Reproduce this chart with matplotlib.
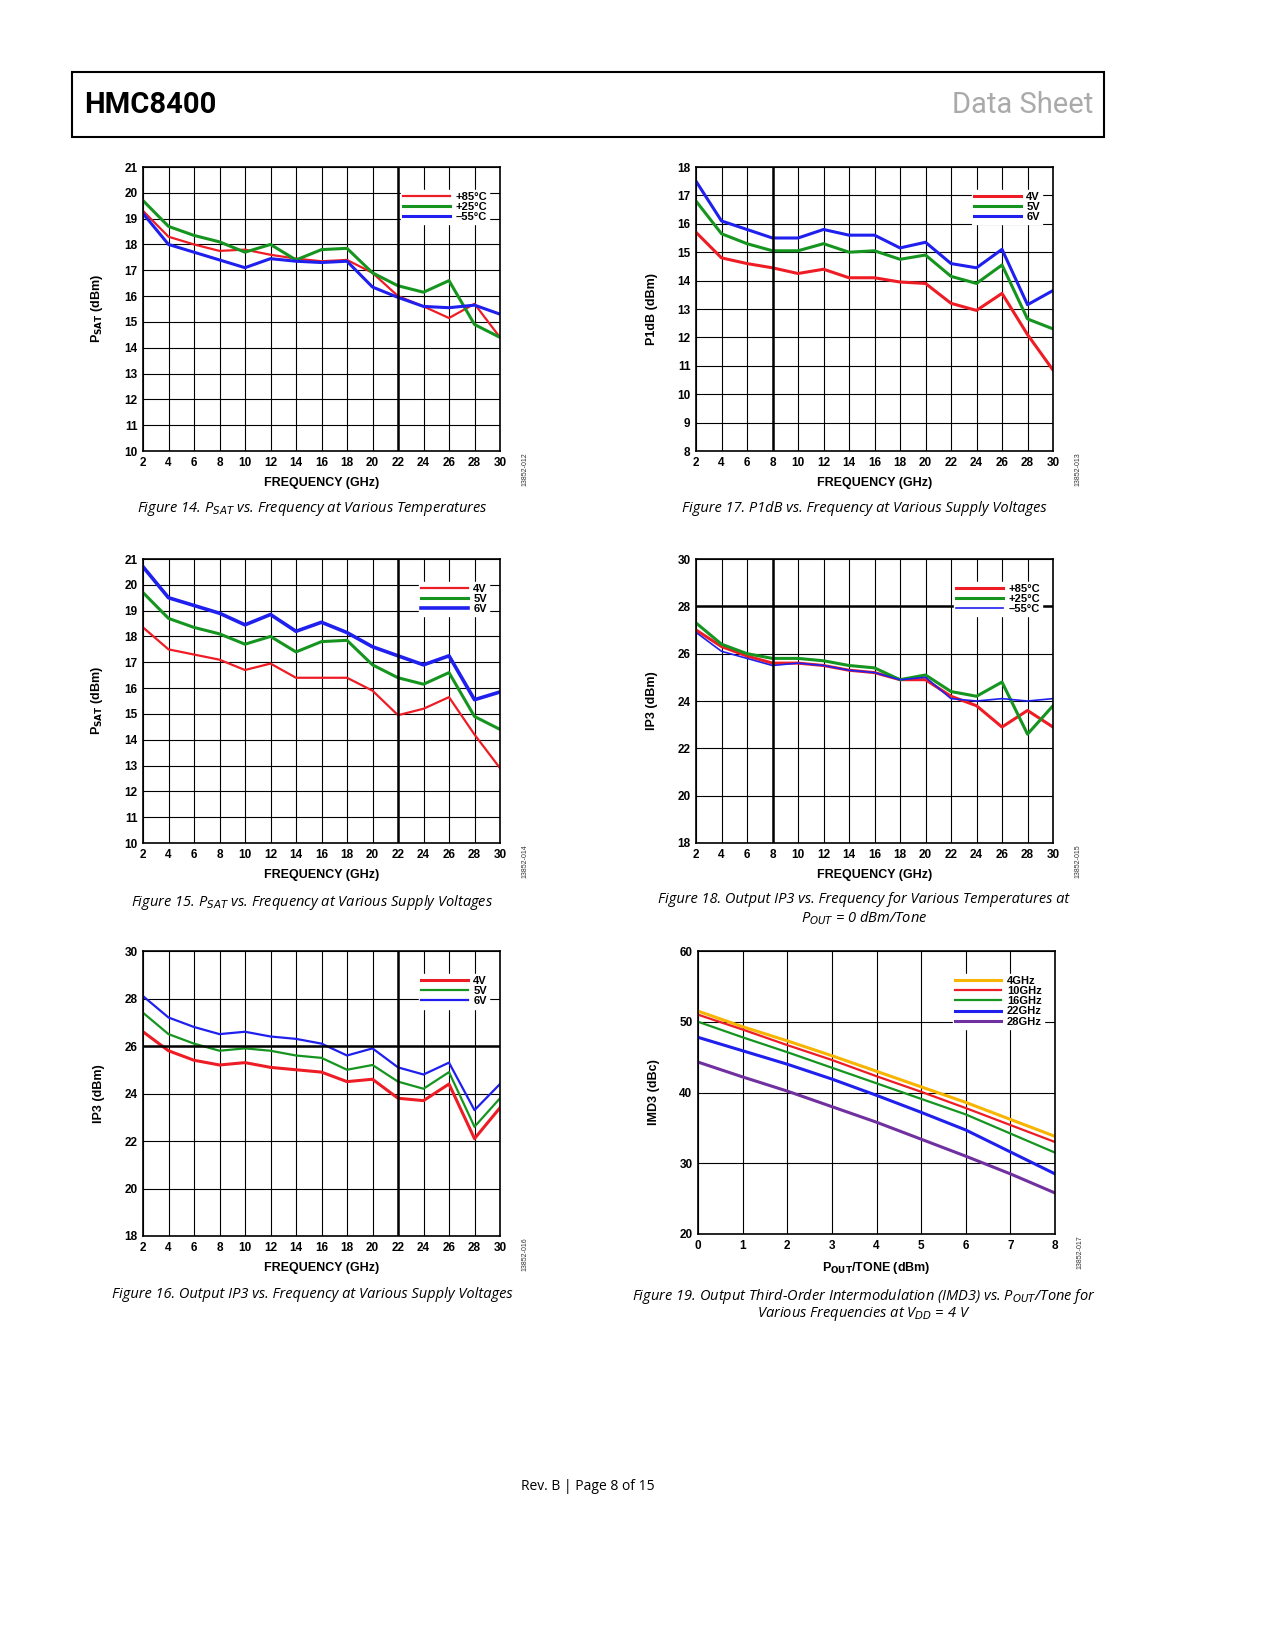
import matplotlib
matplotlib.use('Agg')
import matplotlib.pyplot as plt
from matplotlib.patches import Rectangle

plt.rcParams['font.family'] = ['Liberation Sans', 'DejaVu Sans']

W, H = 1275, 1650

freq = [2, 4, 6, 8, 10, 12, 14, 16, 18, 20, 22, 24, 26, 28, 30]

psat_85 = [19.3, 18.3, 18.0, 17.75, 17.8, 17.6, 17.45, 17.35, 17.4, 16.9, 16.0, 15.6, 15.15, 15.7, 14.4]
psat_25 = [19.7, 18.7, 18.35, 18.1, 17.7, 18.0, 17.4, 17.8, 17.85, 16.9, 16.4, 16.15, 16.6, 14.9, 14.4]
psat_m55 = [19.2, 18.0, 17.7, 17.4, 17.1, 17.45, 17.35, 17.3, 17.35, 16.35, 15.95, 15.6, 15.55, 15.65, 15.3]

psat_4v = [18.35, 17.5, 17.3, 17.1, 16.7, 16.95, 16.4, 16.4, 16.4, 15.9, 14.95, 15.2, 15.65, 14.2, 12.9]
psat_5v = psat_25
psat_6v = [20.7, 19.5, 19.2, 18.9, 18.45, 18.85, 18.2, 18.55, 18.15, 17.6, 17.25, 16.9, 17.25, 15.55, 15.85]

p1db_4v = [15.7, 14.8, 14.6, 14.45, 14.25, 14.4, 14.1, 14.1, 13.95, 13.9, 13.2, 12.95, 13.55, 12.1, 10.85]
p1db_5v = [16.8, 15.65, 15.3, 15.05, 15.05, 15.3, 15.0, 15.05, 14.75, 14.9, 14.15, 13.9, 14.55, 12.65, 12.3]
p1db_6v = [17.5, 16.1, 15.8, 15.5, 15.5, 15.8, 15.6, 15.6, 15.15, 15.35, 14.6, 14.45, 15.1, 13.15, 13.65]

ip3_85 = [27.0, 26.3, 25.9, 25.6, 25.6, 25.5, 25.3, 25.2, 24.9, 24.9, 24.2, 23.8, 22.9, 23.6, 22.9]
ip3_25 = [27.3, 26.4, 26.0, 25.8, 25.8, 25.7, 25.5, 25.4, 24.9, 25.1, 24.4, 24.2, 24.8, 22.6, 23.8]
ip3_m55 = [26.9, 26.1, 25.8, 25.5, 25.6, 25.5, 25.3, 25.2, 24.9, 25.0, 24.1, 24.0, 24.1, 24.0, 24.1]

ip3_4v = [26.6, 25.8, 25.4, 25.2, 25.3, 25.1, 25.0, 24.9, 24.5, 24.6, 23.8, 23.7, 24.4, 22.1, 23.4]
ip3_5v = [27.4, 26.5, 26.1, 25.8, 25.9, 25.8, 25.6, 25.5, 25.0, 25.2, 24.5, 24.2, 24.9, 22.6, 23.8]
ip3_6v = [28.1, 27.2, 26.8, 26.5, 26.6, 26.4, 26.3, 26.1, 25.6, 25.9, 25.1, 24.8, 25.3, 23.3, 24.4]

pout = [0, 1, 2, 3, 4, 5, 6, 7, 8]
imd_4g = [51.5, 49.3, 47.3, 45.2, 43.0, 40.8, 38.6, 36.2, 33.8]
imd_10g = [51.0, 48.9, 46.7, 44.6, 42.3, 40.1, 37.8, 35.4, 33.0]
imd_16g = [50.0, 47.8, 45.7, 43.5, 41.3, 39.1, 36.9, 34.2, 31.5]
imd_22g = [47.8, 45.9, 44.0, 41.9, 39.6, 37.2, 34.7, 31.6, 28.5]
imd_28g = [44.3, 42.2, 40.2, 38.0, 35.8, 33.4, 31.0, 28.5, 25.8]

RED, GREEN, BLUE = '#ee1c25', '#15951f', '#1f1fee'

fig = plt.figure(figsize=(W / 100, H / 100), dpi=100)


def px_axes(x0, y0, x1, y1):
    return fig.add_axes([x0 / W, 1 - y1 / H, (x1 - x0) / W, (y1 - y0) / H])


def chart(box, x, series, ylim, ystep, ylabel, xlabel, xticks, tag, thick_x=None, thick_y=None):
    ax = px_axes(*box)
    for y, c, lw, lab in series:
        ax.plot(x, y, color=c, lw=lw, label=lab)
    ax.set_xlim(xticks[0], xticks[-1])
    ax.set_ylim(*ylim)
    ax.set_xticks(xticks)
    ax.set_yticks(range(ylim[0], ylim[1] + 1, ystep))
    ax.grid(color='black', lw=0.8)
    if thick_x is not None:
        ax.axvline(thick_x, color='black', lw=1.8)
    if thick_y is not None:
        ax.axhline(thick_y, color='black', lw=1.8)
    for s in ax.spines.values():
        s.set_linewidth(1.2)
    ax.tick_params(length=0, labelsize=8.5, pad=4)
    for t in ax.get_xticklabels() + ax.get_yticklabels():
        t.set_fontweight('bold')
    ax.set_ylabel(ylabel, fontsize=9, fontweight='bold', labelpad=14)
    ax.set_xlabel(xlabel, fontsize=9, fontweight='bold', labelpad=6)
    ax.legend(loc='upper right', bbox_to_anchor=(0.985, 0.94),
              prop={'weight': 'bold', 'size': 8}, frameon=True, fancybox=False,
              edgecolor='white', framealpha=1, handlelength=4.2,
              labelspacing=0.02, borderpad=0.2, handletextpad=0.5)
    x1, y1 = box[2], box[3]
    fig.text((x1 + 25) / W, 1 - (y1 + 18) / H, tag, fontsize=5, rotation=90,
             ha='center', va='center', color='#333')
    return ax


fx = list(range(2, 31, 2))
chart((143, 167, 500, 451), freq,
      [(psat_85, RED, 1.6, '+85°C'), (psat_25, GREEN, 2.2, '+25°C'), (psat_m55, BLUE, 2.2, '–55°C')],
      (10, 21), 1, r'P$_{\mathbf{SAT}}$ (dBm)', 'FREQUENCY (GHz)', fx, '13852-012', thick_x=22)
chart((696, 167, 1053, 451), freq,
      [(p1db_4v, RED, 2.2, '4V'), (p1db_5v, GREEN, 2.2, '5V'), (p1db_6v, BLUE, 2.2, '6V')],
      (8, 18), 1, 'P1dB (dBm)', 'FREQUENCY (GHz)', fx, '13852-013', thick_x=8)
chart((143, 559, 500, 843), freq,
      [(psat_4v, RED, 1.6, '4V'), (psat_5v, GREEN, 2.2, '5V'), (psat_6v, BLUE, 2.6, '6V')],
      (10, 21), 1, r'P$_{\mathbf{SAT}}$ (dBm)', 'FREQUENCY (GHz)', fx, '13852-014', thick_x=22)
chart((696, 559, 1053, 843), freq,
      [(ip3_85, RED, 2.2, '+85°C'), (ip3_25, GREEN, 2.2, '+25°C'), (ip3_m55, BLUE, 1.2, '–55°C')],
      (18, 30), 2, 'IP3 (dBm)', 'FREQUENCY (GHz)', fx, '13852-015', thick_x=8, thick_y=28)
chart((143, 951, 500, 1236), freq,
      [(ip3_4v, RED, 2.2, '4V'), (ip3_5v, GREEN, 1.6, '5V'), (ip3_6v, BLUE, 1.6, '6V')],
      (18, 30), 2, 'IP3 (dBm)', 'FREQUENCY (GHz)', fx, '13852-016', thick_x=22, thick_y=26)
chart((698, 951, 1055, 1234), pout,
      [(imd_4g, '#f7b500', 2.2, '4GHz'), (imd_10g, RED, 1.6, '10GHz'), (imd_16g, GREEN, 1.6, '16GHz'),
       (imd_22g, BLUE, 2.2, '22GHz'), (imd_28g, '#7030a0', 2.2, '28GHz')],
      (20, 60), 10, 'IMD3 (dBc)', r'P$_{\mathbf{OUT}}$/TONE (dBm)', list(range(0, 9)), '13852-017')

# captions
cap = dict(fontsize=10.5, style='italic', ha='center', va='center', family=['Open Sans', 'DejaVu Sans'])
fig.text(312 / W, 1 - 509 / H, r'Figure 14. P$_{SAT}$ vs. Frequency at Various Temperatures', **cap)
fig.text(864 / W, 1 - 509 / H, 'Figure 17. P1dB vs. Frequency at Various Supply Voltages', **cap)
fig.text(312 / W, 1 - 902 / H, r'Figure 15. P$_{SAT}$ vs. Frequency at Various Supply Voltages', **cap)
fig.text(864 / W, 1 - 900 / H, 'Figure 18. Output IP3 vs. Frequency for Various Temperatures at', **cap)
fig.text(864 / W, 1 - 918 / H, r'P$_{OUT}$ = 0 dBm/Tone', **cap)
fig.text(312 / W, 1 - 1295 / H, 'Figure 16. Output IP3 vs. Frequency at Various Supply Voltages', **cap)
fig.text(864 / W, 1 - 1296 / H, r'Figure 19. Output Third-Order Intermodulation (IMD3) vs. P$_{OUT}$/Tone for', **cap)
fig.text(864 / W, 1 - 1314 / H, r'Various Frequencies at V$_{DD}$ = 4 V', **cap)

# header
fig.patches.append(Rectangle((72 / W, 1 - 137 / H), (1104 - 72) / W, 65 / H,
                             transform=fig.transFigure, fill=False, ec='black', lw=1.5))
fig.text(84 / W, 1 - 105 / H, 'HMC8400', fontsize=21, fontweight='bold', va='center',
         family=['Roboto', 'DejaVu Sans'], stretch='condensed')
fig.text(1093 / W, 1 - 105 / H, 'Data Sheet', fontsize=21, color='#aaaaaa', va='center', ha='right',
         family=['Roboto', 'DejaVu Sans'])
fig.text(588 / W, 1 - 1487 / H, 'Rev. B | Page 8 of 15', fontsize=10, ha='center', va='center',
         family=['Open Sans', 'DejaVu Sans'])

fig.savefig('out.png', dpi=100)
